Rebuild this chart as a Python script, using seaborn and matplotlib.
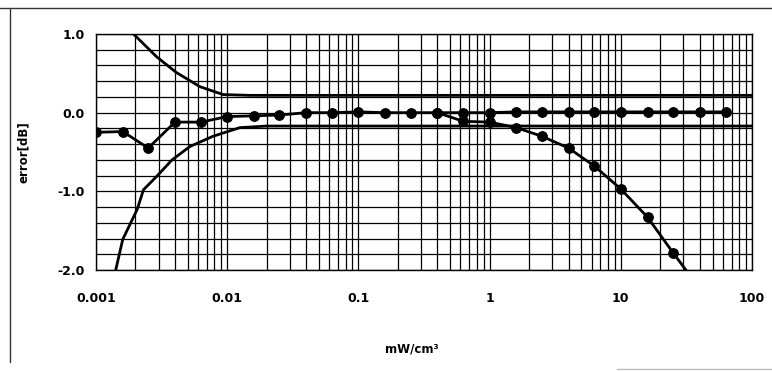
import numpy as np
import pandas as pd
import matplotlib
matplotlib.use("Agg")
import matplotlib.pyplot as plt
from matplotlib.lines import Line2D
import seaborn as sns

# ---- data ----
meas_x = [0.001, 0.0016, 0.0025, 0.004, 0.0063, 0.01, 0.016, 0.025, 0.04, 0.063,
          0.1, 0.16, 0.25, 0.4, 0.63, 1.0, 1.6, 2.5, 4.0, 6.3, 10, 16, 25, 40, 63]
meas_y = [-0.25, -0.24, -0.45, -0.12, -0.12, -0.05, -0.04, -0.03, 0.0, 0.0,
          0.01, 0.0, 0.0, 0.0, 0.0, 0.0, 0.01, 0.01, 0.01, 0.01, 0.01, 0.01, 0.01, 0.01, 0.01]

drop_x = [0.4, 0.63, 1.0, 1.6, 2.5, 4.0, 6.3, 10, 16, 25]
drop_y = [0.0, -0.11, -0.12, -0.19, -0.30, -0.45, -0.68, -0.97, -1.33, -1.78]
drop_tail_x = [25, 33]
drop_tail_y = [-1.78, -2.05]

upper_x = [0.0018, 0.0029, 0.0041, 0.0062, 0.0093, 0.015, 0.1, 1, 10, 100]
upper_y = [1.05, 0.71, 0.51, 0.33, 0.23, 0.22, 0.22, 0.22, 0.22, 0.22]

lower_x = [0.0014, 0.0016, 0.00206, 0.0023, 0.0029, 0.0038, 0.0052, 0.0078, 0.0125, 0.02, 0.1, 1, 10, 100]
lower_y = [-2.03, -1.61, -1.23, -0.98, -0.81, -0.60, -0.43, -0.30, -0.19, -0.17, -0.17, -0.17, -0.17, -0.17]

x_ticks = [0.001, 0.01, 0.1, 1, 10, 100]
x_tick_labels = ["0.001", "0.01", "0.1", "1", "10", "100"]
y_ticks = [1.0, 0.0, -1.0, -2.0]
y_tick_labels = ["1.0", "0.0", "-1.0", "-2.0"]

sns.set_style("white")
plt.rcParams["font.family"] = ["DejaVu Sans"]
plt.rcParams["text.color"] = "black"
plt.rcParams["axes.labelcolor"] = "black"
plt.rcParams["xtick.color"] = "black"
plt.rcParams["ytick.color"] = "black"

W, H = 772, 371
fig = plt.figure(figsize=(W / 100, H / 100), dpi=100)
ax = fig.add_axes([96 / W, 1 - 270 / H, (752 - 96) / W, (270 - 34) / H])

ax.set_xscale("log")
ax.set_xlim(0.001, 100)
ax.set_ylim(-2.0, 1.0)

# grid
ax.set_yticks(y_ticks)
ax.set_yticks(np.arange(-2.0, 1.01, 0.2), minor=True)
ax.set_xticks(x_ticks)
ax.xaxis.set_minor_locator(matplotlib.ticker.LogLocator(base=10, subs=np.arange(2, 10), numticks=20))
ax.xaxis.set_minor_formatter(matplotlib.ticker.NullFormatter())
ax.grid(True, which="both", color="black", linewidth=0.9)
ax.set_axisbelow(True)

df_up = pd.DataFrame({"x": upper_x, "y": upper_y})
df_lo = pd.DataFrame({"x": lower_x, "y": lower_y})
sns.lineplot(data=df_up, x="x", y="y", ax=ax, color="black", linewidth=2.0, sort=False)
sns.lineplot(data=df_lo, x="x", y="y", ax=ax, color="black", linewidth=2.0, sort=False)

df_meas = pd.DataFrame({"x": meas_x, "y": meas_y})
sns.lineplot(data=df_meas, x="x", y="y", ax=ax, color="black", linewidth=2.0, sort=False,
             marker="o", markersize=7, markeredgecolor="black", markerfacecolor="black")
df_drop = pd.DataFrame({"x": drop_x, "y": drop_y})
sns.lineplot(data=df_drop, x="x", y="y", ax=ax, color="black", linewidth=2.0, sort=False,
             marker="o", markersize=7, markeredgecolor="black", markerfacecolor="black")
df_tail = pd.DataFrame({"x": drop_tail_x, "y": drop_tail_y})
sns.lineplot(data=df_tail, x="x", y="y", ax=ax, color="black", linewidth=2.0, sort=False)

for s in ax.spines.values():
    s.set_color("black")
    s.set_linewidth(1.0)

ax.set_xticklabels(x_tick_labels, fontsize=9, fontweight="bold", color="black")
ax.set_yticklabels(y_tick_labels, fontsize=9, fontweight="bold", color="black")
ax.tick_params(axis="x", which="major", direction="out", length=5, width=1, pad=11, color="black")
ax.tick_params(axis="y", which="major", direction="out", length=5, width=1, pad=3, color="black")
ax.tick_params(which="minor", length=0)

ax.set_xlabel("mW/cm³", fontsize=8.5, fontweight="bold", color="black")
ax.xaxis.set_label_coords((412 - 96) / (752 - 96), -(347 - 270) / (270 - 34) + 0.02, transform=ax.transAxes)
ax.set_ylabel("error[dB]", fontsize=8.5, fontweight="bold", color="black")
ax.yaxis.set_label_coords(-(96 - 30) / (752 - 96), 0.5, transform=ax.transAxes)

# page frame of the scan
def px_line(x0, y0, x1, y1, color="#222222", lw=1.0):
    fig.add_artist(Line2D([x0 / W, x1 / W], [1 - y0 / H, 1 - y1 / H],
                          transform=fig.transFigure, color=color, linewidth=lw))

px_line(0, 8, W, 8, color="#333333", lw=1.0)
px_line(10, 8, 10, 362, color="#333333", lw=1.0)
px_line(617, 369, W, 369, color="#bbbbbb", lw=1.0)

fig.savefig("out.png", dpi=100)
